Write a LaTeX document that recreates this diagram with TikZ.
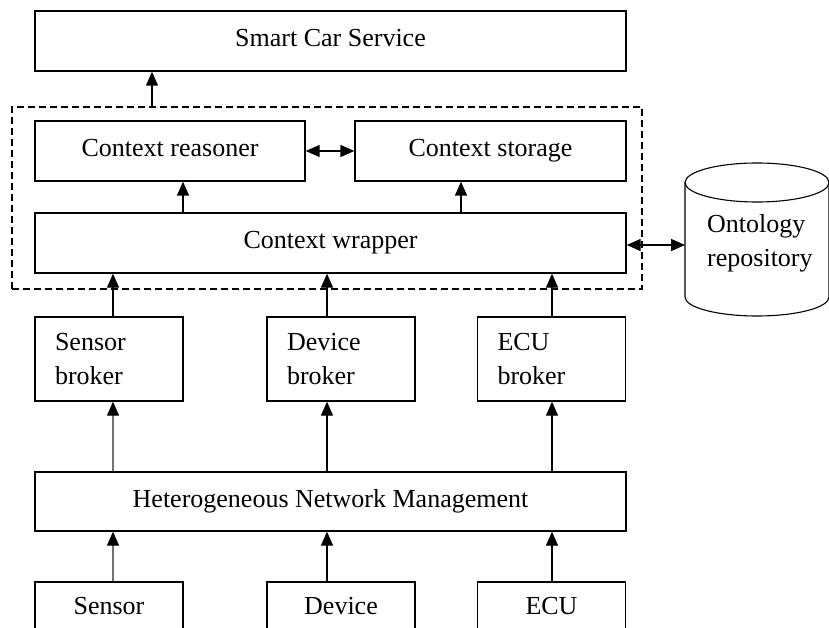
\documentclass[tikz,border=0pt]{standalone}
\usepackage{fontspec}
\setmainfont{Liberation Serif}
\usetikzlibrary{arrows.meta}
\begin{document}
\begin{tikzpicture}[x=1pt,y=-1pt,
  every node/.style={font=\fontsize{26}{34}\selectfont},
  box/.style={draw, line width=1.4pt, rectangle, inner sep=0pt},
  onebox/.style={box, text height=17.5pt, text depth=6pt},
  brokerbox/.style={box, minimum width=148pt, minimum height=84pt,
    text width=108pt, align=left},
  srcbox/.style={box, minimum width=148pt, minimum height=48pt},
  arr/.style={line width=1.4pt, -{Triangle[length=14pt,width=12pt]}},
  darr/.style={line width=1.4pt, {Triangle[length=14pt,width=12pt]}-{Triangle[length=14pt,width=12pt]}},
  grayarr/.style={line width=1.4pt, draw=black!55, -{Triangle[length=14pt,width=12pt,color=black]}}
]
\useasboundingbox (0,0) rectangle (829,628);

% service layer and context-aware middleware
\node[onebox, minimum width=591pt, minimum height=60pt] (smart) at (330.5,41) {Smart Car Service};
\node[draw, line width=1.3pt, dash pattern=on 7pt off 4pt, minimum width=630pt, minimum height=182pt, inner sep=0pt] (ctx) at (327,198) {};
\node[onebox, minimum width=270pt, minimum height=60pt] (reas) at (170,151) {Context reasoner};
\node[onebox, minimum width=271pt, minimum height=60pt] (stor) at (490.5,151) {Context storage};
\node[onebox, minimum width=591pt, minimum height=60pt] (wrap) at (330.5,243) {Context wrapper};

% brokers
\node[brokerbox] (sb) at (109,359) {Sensor\\broker};
\node[brokerbox] (db) at (341,359) {Device\\broker};
\node[brokerbox] (eb) at (551.5,359) {ECU\\broker};

% network management and sources
\node[onebox, minimum width=591pt, minimum height=59pt] (hnm) at (330.5,501.5) {Heterogeneous Network Management};
\node[srcbox] (sen) at (109,606) {Sensor};
\node[srcbox] (dev) at (341,606) {Device};
\node[srcbox] (ecu) at (551.5,606) {ECU};

% ontology repository (cylinder)
\coordinate (ontc) at (757,240);
\draw[line width=1.1pt, fill=white] (685,182.5) -- (685,297)
  arc[start angle=180, end angle=360, x radius=72pt, y radius=19pt]
  -- (829,182.5);
\draw[line width=1.1pt] (757,182.5) ellipse[x radius=72pt, y radius=19.5pt];
\node[inner sep=0pt, align=left, anchor=west] (ont) at (707,243.6) {Ontology\\repository};
\coordinate (ontw) at (685,245);

% column positions of the vertical connectors
\coordinate (c0) at (152,0);
\coordinate (c1) at (113,0);
\coordinate (c2) at (327,0);
\coordinate (c3) at (552,0);
\coordinate (c4) at (183,0);
\coordinate (c5) at (461,0);

% connectors
\draw[arr] (ctx.north -| c0) -- (smart.south -| c0);
\draw[arr] (wrap.north -| c4) -- (reas.south -| c4);
\draw[arr] (wrap.north -| c5) -- (stor.south -| c5);
\draw[darr] (reas.east) -- (stor.west);
\draw[darr] (wrap.east |- ontw) -- (ontw);

\draw[arr] (sb.north -| c1) -- (wrap.south -| c1);
\draw[arr] (db.north -| c2) -- (wrap.south -| c2);
\draw[arr] (eb.north -| c3) -- (wrap.south -| c3);

\draw[grayarr] (hnm.north -| c1) -- (sb.south -| c1);
\draw[arr] (hnm.north -| c2) -- (db.south -| c2);
\draw[arr] (hnm.north -| c3) -- (eb.south -| c3);

\draw[grayarr] (sen.north -| c1) -- (hnm.south -| c1);
\draw[arr] (dev.north -| c2) -- (hnm.south -| c2);
\draw[arr] (ecu.north -| c3) -- (hnm.south -| c3);
\end{tikzpicture}
\end{document}
